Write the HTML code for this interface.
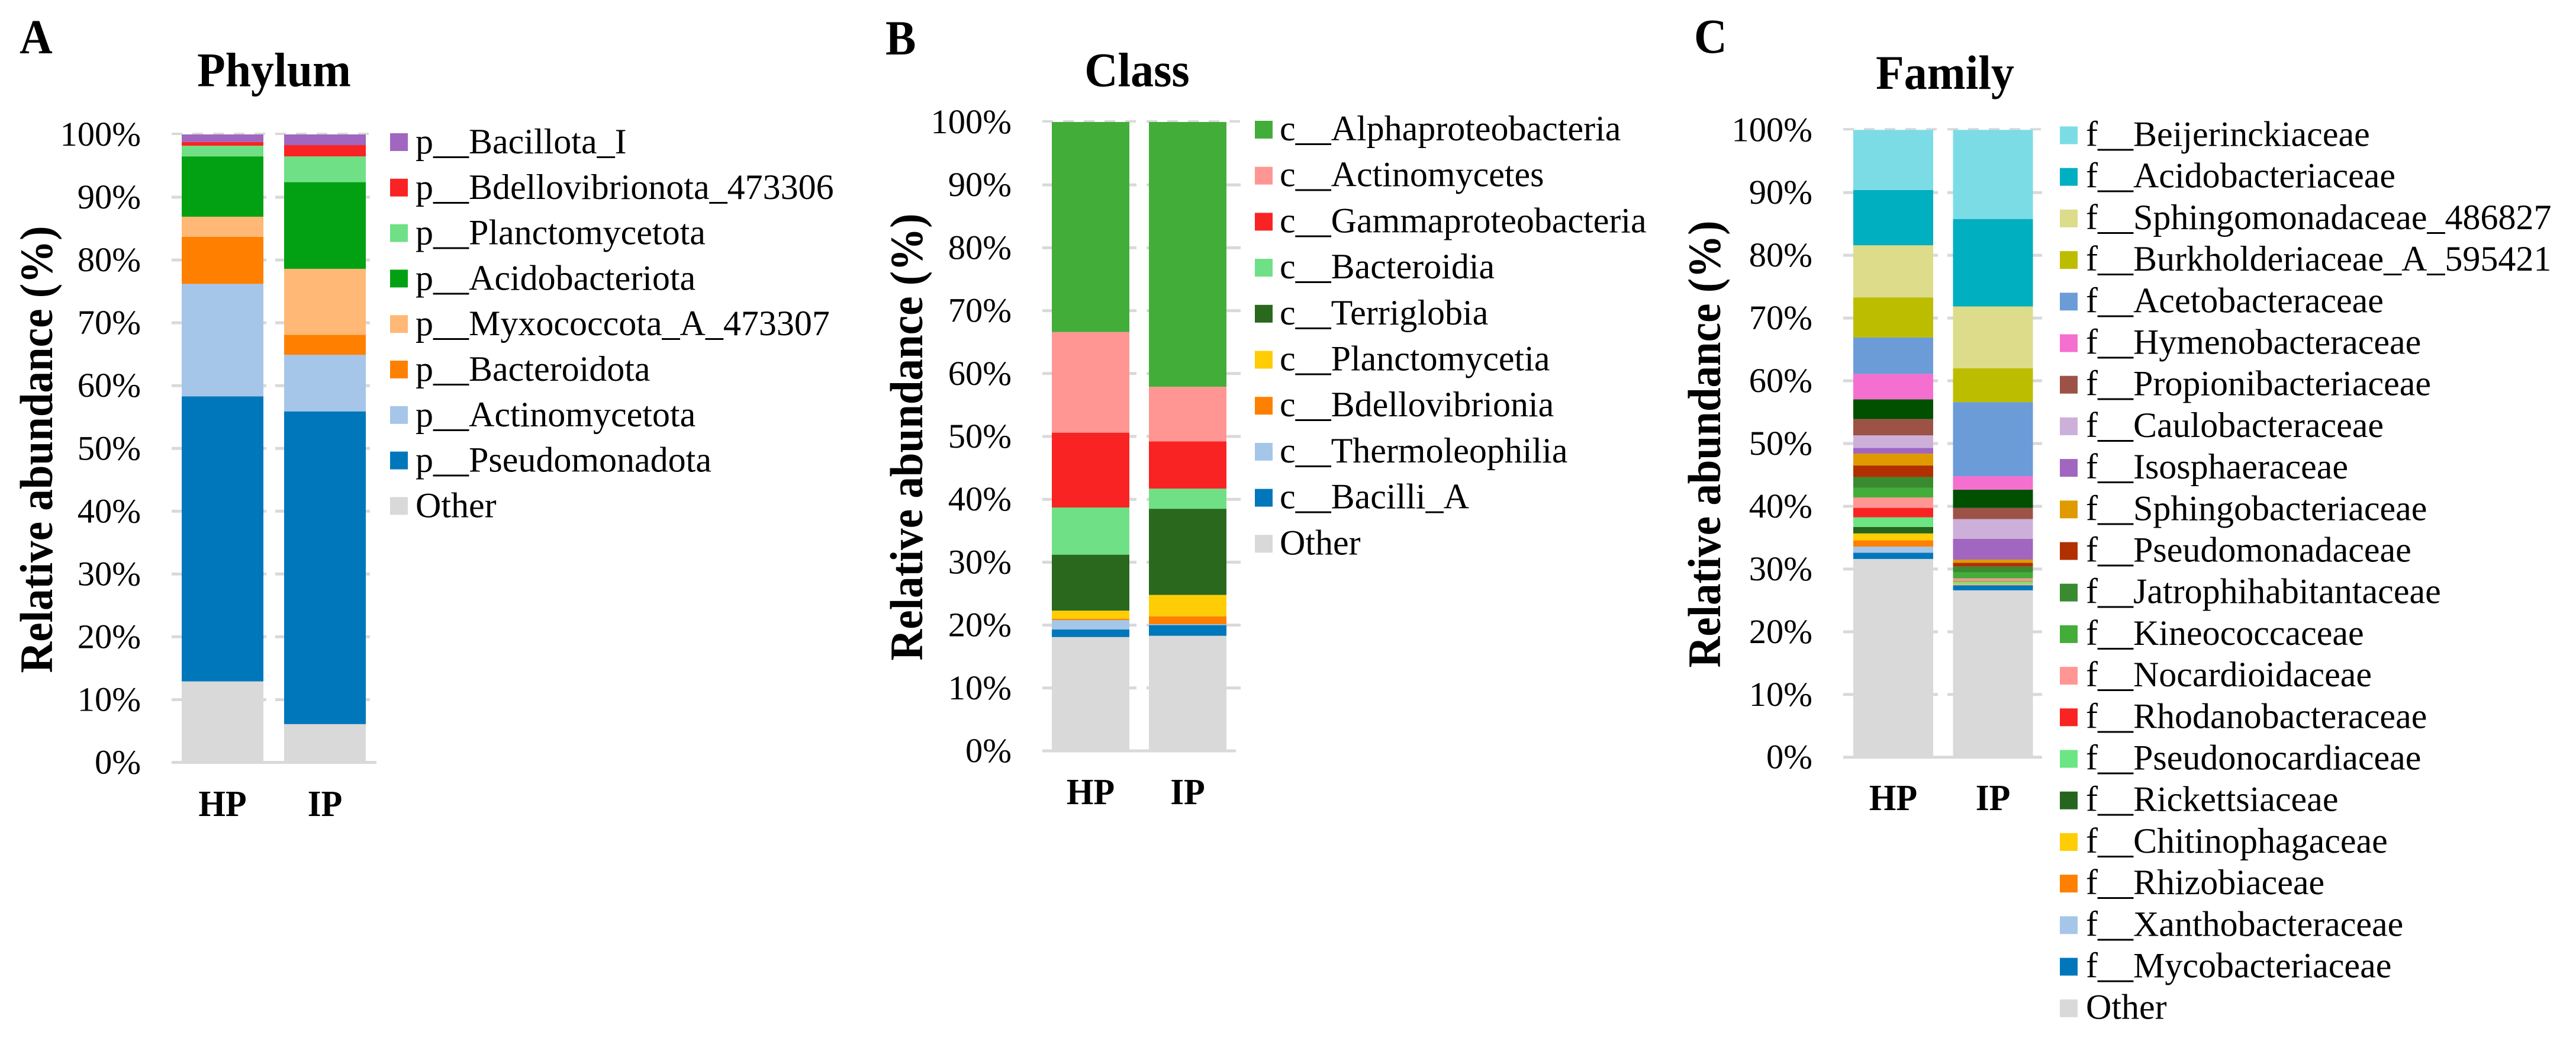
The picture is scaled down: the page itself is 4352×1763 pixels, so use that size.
<!DOCTYPE html>
<html lang="en">
<head>
<meta charset="utf-8">
<title>Relative abundance by phylum, class and family</title>
<style>
html,body{margin:0;padding:0;background:#fff;}
svg{display:block;width:4352px;height:1763px;font-family:"Liberation Serif","Times New Roman",serif;}
</style>
</head>
<body>
<svg id="figure" xmlns="http://www.w3.org/2000/svg" width="4352" height="1763" viewBox="0 0 4352 1763"></svg>
<script>
const categories = ["HP", "IP"];
const tickValues = [0, 10, 20, 30, 40, 50, 60, 70, 80, 90, 100];
const tickLabels = ["0%", "10%", "20%", "30%", "40%", "50%", "60%", "70%", "80%", "90%", "100%"];

// Stacks run bottom to top. Legends list them top to bottom.
const phylumNames = ["Other", "p__Pseudomonadota", "p__Actinomycetota", "p__Bacteroidota", "p__Myxococcota_A_473307", "p__Acidobacteriota", "p__Planctomycetota", "p__Bdellovibrionota_473306", "p__Bacillota_I"];
const phylumHP = [12.9, 45.4, 17.9, 7.5, 3.2, 9.6, 1.7, 0.6, 1.2];
const phylumIP = [6.1, 49.8, 9.0, 3.2, 10.5, 13.8, 4.1, 1.8, 1.7];
const phylumColors = ["#d9d9d9", "#0077bb", "#a5c6e9", "#ff8000", "#ffb876", "#02a113", "#6fe085", "#f92324", "#a066c0"];

const classNames = ["Other", "c__Bacilli_A", "c__Thermoleophilia", "c__Bdellovibrionia", "c__Planctomycetia", "c__Terriglobia", "c__Bacteroidia", "c__Gammaproteobacteria", "c__Actinomycetes", "c__Alphaproteobacteria"];
const classHP = [18.1, 1.2, 1.5, 0.2, 1.3, 8.9, 7.5, 11.9, 16.0, 33.4];
const classIP = [18.3, 1.7, 0.15, 1.25, 3.4, 13.7, 3.2, 7.5, 8.7, 42.1];
const classColors = ["#d9d9d9", "#0077bb", "#a5c6e9", "#ff8000", "#ffcd05", "#2a681e", "#6fe085", "#f92324", "#ff9694", "#43ad3a"];

// The blank name is the very dark green stack that has no legend entry.
const familyNames = ["Other", "f__Mycobacteriaceae", "f__Xanthobacteraceae", "f__Rhizobiaceae", "f__Chitinophagaceae", "f__Rickettsiaceae", "f__Pseudonocardiaceae", "f__Rhodanobacteraceae", "f__Nocardioidaceae", "f__Kineococcaceae", "f__Jatrophihabitantaceae", "f__Pseudomonadaceae", "f__Sphingobacteriaceae", "f__Isosphaeraceae", "f__Caulobacteraceae", "f__Propionibacteriaceae", "", "f__Hymenobacteraceae", "f__Acetobacteraceae", "f__Burkholderiaceae_A_595421", "f__Sphingomonadaceae_486827", "f__Acidobacteriaceae", "f__Beijerinckiaceae"];
const familyHP = [31.6, 1.0, 0.96, 1.0, 1.11, 1.03, 1.54, 1.51, 1.65, 1.57, 1.7, 1.83, 1.9, 0.9, 2.0, 2.6, 3.15, 4.05, 5.8, 6.4, 8.3, 8.8, 9.6];
const familyIP = [26.6, 0.8, 0.1, 0.05, 0.15, 0.02, 0.33, 0.05, 0.4, 0.96, 0.94, 0.6, 0.5, 3.3, 3.16, 1.79, 2.9, 2.15, 11.8, 5.4, 9.85, 13.95, 14.2];
const familyColors = ["#d9d9d9", "#0077bb", "#a5c6e9", "#ff8000", "#ffcd05", "#26651e", "#6ce585", "#f92324", "#ff9694", "#43ad3a", "#3a8a30", "#b03000", "#e09a00", "#a066c0", "#cdb0da", "#9c5346", "#005000", "#f56fd0", "#6c9cd8", "#bdbd00", "#dcdc8a", "#00afc0", "#7cdce6"];

const SVG_NS = "http://www.w3.org/2000/svg";
const figure = document.getElementById("figure");

function make(tag, attrs, parent) {
  const el = document.createElementNS(SVG_NS, tag);
  for (const key in attrs) el.setAttribute(key, attrs[key]);
  parent.appendChild(el);
  return el;
}

function drawPanel(p) {
  const group = make("g", {}, figure);
  
  

  const yScale = v => p.y0 - v * (p.y0 - p.y100) / 100;
  const barX = i => p.barLeft + i * p.barStep;
  const gridX = i => p.gridLeft + i * p.gridStep;

  const letter = make("text", {transform: "translate(" + p.letterX + " " + p.letterY + ") scale(0.93 1)", "font-size": 83, "font-weight": "bold", fill: "#000"}, group);
  letter.textContent = p.letter;
  
  

  const title = make("text", {transform: "translate(" + p.titleX + " " + p.titleY + ") scale(0.95 1)", "font-size": 82, "font-weight": "bold", "text-anchor": "middle", fill: "#000"}, group);
  title.textContent = p.title;
  
  

  const yTitle = make("text", {
    transform: "translate(" + p.yTitleX + " " + p.yTitleY + ") rotate(-90)",
    "font-size": 78, "font-weight": "bold", "text-anchor": "middle", fill: "#000",
    textLength: 755, lengthAdjust: "spacingAndGlyphs"
  }, group);
  yTitle.textContent = "Relative abundance (%)";
  
  

  tickValues.forEach((value, t) => {
    const y = yScale(value);
    const label = make("text", {x: p.tickX, y: y + 19, "font-size": 58.5, "text-anchor": "end", fill: "#000"}, group);
    label.textContent = tickLabels[t];
    
    

    if (value === 0) {
      const axis = make("line", {x1: p.gridLeft, x2: p.axisRight, y1: y, y2: y, stroke: "#d9d9d9", "stroke-width": 5}, group);
      
      
    } else {
      categories.forEach((c, i) => {
        const grid = make("line", {x1: gridX(i), x2: gridX(i) + p.gridLen, y1: y, y2: y, stroke: "#d9d9d9", "stroke-width": 5}, group);
        if (value === 100) {
          grid.setAttribute("stroke-dasharray", "18 17");
          grid.setAttribute("stroke-width", "4");
          grid.setAttribute("y1", y - 1);
          grid.setAttribute("y2", y - 1);
        }
        
        
      });
    }
  });

  categories.forEach((category, i) => {
    const values = p.series[i];
    let cumulative = 0;
    values.forEach((value, s) => {
      const top = yScale(cumulative + value);
      const bottom = yScale(cumulative);
      const segment = make("rect", {x: barX(i), y: top, width: p.barWidth, height: Math.max(bottom - top, 0), fill: p.colors[s]}, group);
      
      
      cumulative += value;
    });

    const label = make("text", {transform: "translate(" + (barX(i) + p.barWidth / 2) + " " + p.catY + ") scale(0.93 1)", "font-size": 63, "font-weight": "bold", "text-anchor": "middle", fill: "#000"}, group);
    label.textContent = category;
    
    
  });

  let row = 0;
  for (let s = p.names.length - 1; s >= 0; s--) {
    if (!p.names[s]) continue;
    const cy = p.legendY + row * p.legendStep;
    const swatch = make("rect", {x: p.swatchX, y: cy - 15, width: 30, height: 30, fill: p.colors[s]}, group);
    
    
    const entry = make("text", {x: p.legendTextX, y: cy + p.legendBase, "font-size": 60, fill: "#000"}, group);
    entry.textContent = p.names[s];
    
    
    row++;
  }
}

drawPanel({
  key: "phylum", letter: "A", title: "Phylum",
  names: phylumNames, colors: phylumColors, series: [phylumHP, phylumIP],
  y0: 1287.5, y100: 227, tickX: 238,
  barLeft: 307, barStep: 173, barWidth: 138,
  gridLeft: 290, gridStep: 175, gridLen: 160, axisRight: 636,
  letterX: 33, letterY: 90, titleX: 463, titleY: 145.5,
  yTitleX: 88, yTitleY: 759, catY: 1378,
  swatchX: 659, legendTextX: 702, legendY: 240, legendStep: 76.8, legendBase: 19
});

drawPanel({
  key: "class", letter: "B", title: "Class",
  names: classNames, colors: classColors, series: [classHP, classIP],
  y0: 1268, y100: 206, tickX: 1709,
  barLeft: 1777, barStep: 164, barWidth: 131,
  gridLeft: 1761, gridStep: 176, gridLen: 159, axisRight: 2088,
  letterX: 1496, letterY: 92, titleX: 1921, titleY: 145.5,
  yTitleX: 1558, yTitleY: 738, catY: 1358,
  swatchX: 2120, legendTextX: 2162, legendY: 219, legendStep: 77.7, legendBase: 18
});

drawPanel({
  key: "family", letter: "C", title: "Family",
  names: familyNames, colors: familyColors, series: [familyHP, familyIP],
  y0: 1278.7, y100: 219.3, tickX: 3062,
  barLeft: 3131, barStep: 168.5, barWidth: 135,
  gridLeft: 3114, gridStep: 176, gridLen: 160, axisRight: 3450,
  letterX: 2862, letterY: 89, titleX: 3286, titleY: 150,
  yTitleX: 2906, yTitleY: 750, catY: 1368,
  swatchX: 3480, legendTextX: 3524, legendY: 228.5, legendStep: 70.2, legendBase: 18
});
</script>
</body>
</html>
